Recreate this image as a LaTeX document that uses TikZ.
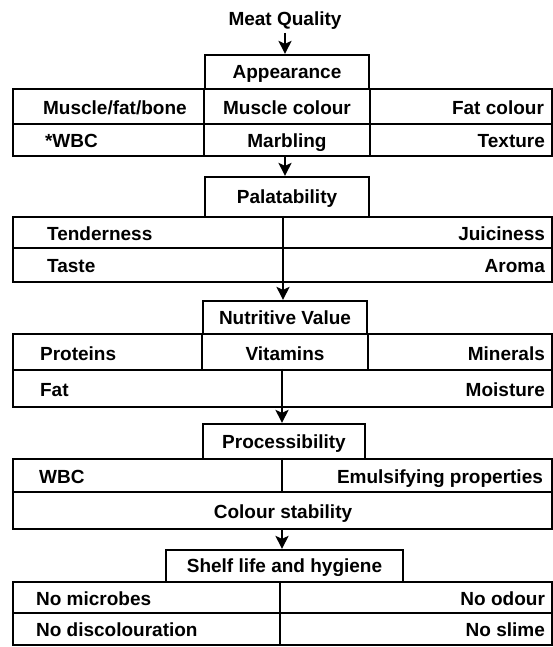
\documentclass[tikz,border=0pt]{standalone}
\usepackage{fontspec}
\setmainfont{Liberation Sans}
\usetikzlibrary{arrows.meta, positioning}

\begin{document}
\begin{tikzpicture}[
    x=1pt, y=-1pt, line width=2.2pt,
    every node/.style={font=\bfseries\fontsize{19}{22}\selectfont, inner sep=0pt, text height=13.4pt, text depth=0pt},
    box/.style={rectangle, draw, minimum width=164pt, align=center},
    row/.style={rectangle, draw, minimum width=539pt},
    lcell/.style={anchor=west},
    rcell/.style={anchor=east},
    arrow/.style={-{Stealth[length=13pt, width=13pt, inset=3pt]}}
]
\useasboundingbox (0,0) rectangle (553,647);

\node (mq) at (285,19) {Meat Quality};
\node[box, minimum height=34pt] (app) at (287,72) {Appearance};
\node[row, minimum height=35pt] (r1a) at (282.5,106.5) {};
\node[row, minimum height=32pt] (r1b) at (282.5,140) {};

\node[box, minimum height=40pt] (pal) at (287,197) {Palatability};
\node[row, minimum height=31pt] (r2a) at (282.5,232.5) {};
\node[row, minimum height=34pt] (r2b) at (282.5,265) {};

\node[box, minimum height=33pt] (nut) at (285,317.5) {Nutritive Value};
\node[row, minimum height=36pt] (r3a) at (282.5,352) {};
\node[row, minimum height=37pt] (r3b) at (282.5,388.5) {};

\node[box, minimum width=162pt, minimum height=35pt] (proc) at (284,441.5) {Processibility};
\node[row, minimum height=33pt] (r4a) at (282.5,475.5) {};
\node[row, minimum height=37pt] (r4b) at (282.5,510.5) {};

\node[box, minimum width=237pt, minimum height=32pt] (shelf) at (284.5,566) {Shelf life and hygiene};
\node[row, minimum height=31pt] (r5a) at (282.5,597.5) {};
\node[row, minimum height=32pt] (r5b) at (282.5,629) {};

\coordinate (c2) at (283,0);
\coordinate (c3) at (282,0);
\coordinate (c5) at (280,0);

\draw[arrow, shorten <=6pt] (mq.south) -- (mq.south |- app.north);
\draw (app.south west) -- (app.south west |- r1b.south);
\draw (app.south east) -- (app.south east |- r1b.south);
\draw[arrow] (mq |- r1b.south) -- (mq |- pal.north);
\draw[arrow] (c2 |- r2a.north) -- (c2 |- nut.north);
\draw (nut.south west) -- (nut.south west |- r3a.south);
\draw (nut.south east) -- (nut.south east |- r3a.south);
\draw[arrow] (c3 |- r3b.north) -- (c3 |- proc.north);
\draw (c3 |- r4a.north) -- (c3 |- r4a.south);
\draw[arrow] (c3 |- r4b.south) -- (c3 |- shelf.north);
\draw (c5 |- r5a.north) -- (c5 |- r5b.south);

\node[lcell] (mfb) at (42,108) {Muscle/fat/bone};
\node (mcol) at (287,108) {Muscle colour};
\node[rcell] (fcol) at (545,108) {Fat colour};
\node[lcell] (wbc) at (44,141) {*WBC};
\node (marb) at (287,141) {Marbling};
\node[rcell] (text) at (546,141) {Texture};

\node[lcell] (tend) at (46,234) {Tenderness};
\node[rcell] (juic) at (546,234) {Juiciness};
\node[lcell] (tast) at (46,266) {Taste};
\node[rcell] (arom) at (546,266) {Aroma};

\node[lcell] (prot) at (39,354) {Proteins};
\node (vita) at (285,354) {Vitamins};
\node[rcell] (mine) at (546,354) {Minerals};
\node[lcell] (fat) at (39,390) {Fat};
\node[rcell] (mois) at (546,390) {Moisture};

\node[lcell] (wbcp) at (38,477) {WBC};
\node[rcell] (emul) at (544,477) {Emulsifying properties};
\node (cstab) at (283,512) {Colour stability};

\node[lcell] (micr) at (35,599) {No microbes};
\node[rcell] (odou) at (546,599) {No odour};
\node[lcell] (disc) at (35,630) {No discolouration};
\node[rcell] (slim) at (546,630) {No slime};
\end{tikzpicture}
\end{document}
